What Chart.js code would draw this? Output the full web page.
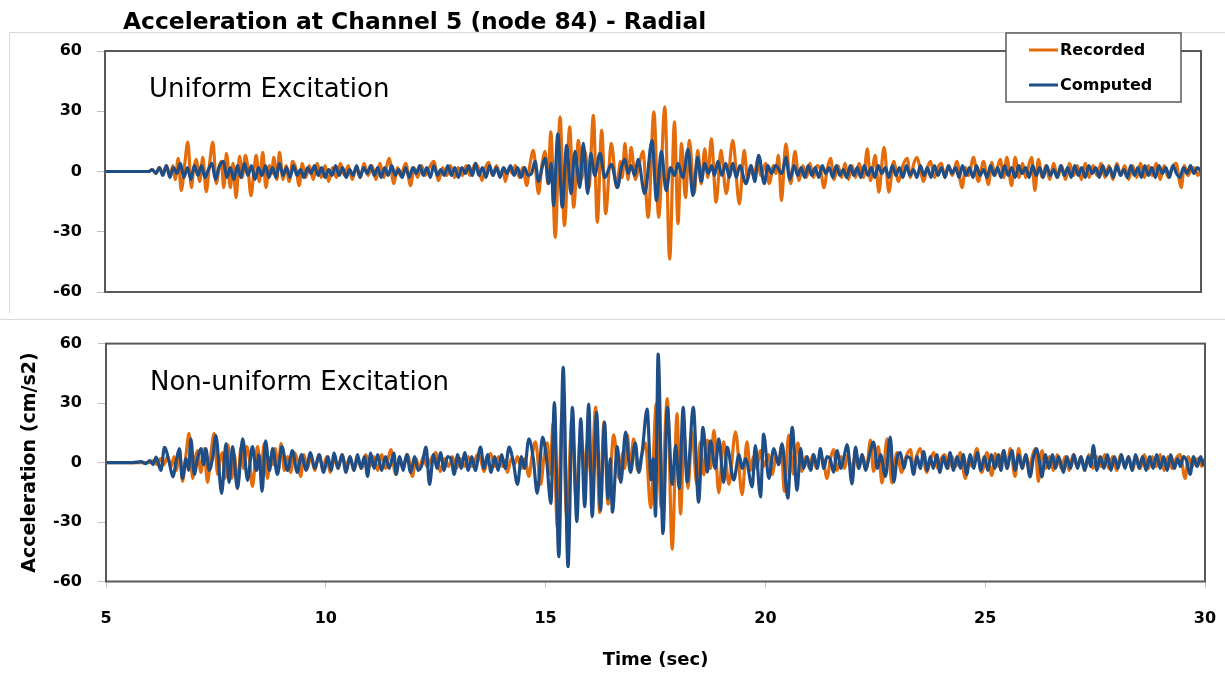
<!DOCTYPE html>
<html>
<head>
<meta charset="utf-8">
<title>Acceleration at Channel 5 (node 84) - Radial</title>
<script src="https://cdn.jsdelivr.net/npm/chart.js@4.4.1/dist/chart.umd.min.js"></script>
<style>
  html, body { margin: 0; padding: 0; background: #fff; }
  #wrap { position: relative; width: 1225px; height: 687px; overflow: hidden; background: #fff; }
  .rule { position: absolute; background: #d9d9d9; }
  #topBox { position: absolute; left: 0; top: 0; width: 1225px; height: 318px; }
  #botBox { position: absolute; left: 0; top: 318px; width: 1225px; height: 369px; }
  canvas { display: block; }
</style>
</head>
<body>
<div id="wrap">
  <div class="rule" style="left:9px;top:32px;width:1216px;height:1px"></div>
  <div class="rule" style="left:9px;top:32px;width:1px;height:281px"></div>
  <div class="rule" style="left:0;top:319px;width:1225px;height:1px"></div>
  <div id="topBox"><canvas id="topChart" width="1225" height="318"></canvas></div>
  <div id="botBox"><canvas id="botChart" width="1225" height="369"></canvas></div>
</div>
<script>
// ---- chart text ----
const chartTitle = 'Acceleration at Channel 5 (node 84) - Radial';
const panelCaptions = ['Uniform Excitation', 'Non-uniform Excitation'];
const seriesNames = ['Recorded', 'Computed'];
const xAxisTitle = 'Time (sec)';
const yAxisTitle = 'Acceleration (cm/s2)';

// ---- tick values ----
const timeTicks = [5, 10, 15, 20, 25, 30];
const accelTicks = [-60, -30, 0, 30, 60];

// ---- series: [time (s), acceleration (cm/s2)] ----
const recorded = [
  [5,0],[5.6,0],[6.0,0],[6.08,1],[6.16,-1],[6.24,2],[6.32,-1],[6.4,3],[6.48,-2],[6.55,3],[6.6,-4],
  [6.67,6.5],[6.74,-9.5],[6.82,4],[6.89,14.7],[6.97,-8],[7.02,1],[7.08,6],[7.16,-5],[7.23,7],[7.31,-10],
  [7.38,3],[7.46,14.7],[7.54,-6],[7.6,2],[7.65,5],[7.71,-8],[7.77,9],[7.86,-8],[7.92,4],[7.99,-13],
  [8.07,7.5],[8.13,-3],[8.2,8],[8.26,2],[8.33,-12],[8.4,1],[8.45,8],[8.52,-5],[8.6,9.5],[8.67,-8],
  [8.75,3],[8.8,-1],[8.85,7],[8.92,-4],[8.98,9.5],[9.06,-4],[9.13,3],[9.2,-5],[9.28,5],[9.36,1],
  [9.43,-7],[9.5,4],[9.58,-3],[9.66,3],[9.75,-4],[9.84,4],[9.93,-3],[10.02,3],[10.1,-5],[10.19,2],
  [10.28,-3],[10.37,4],[10.46,-2],[10.55,3],[10.64,-4],[10.73,2],[10.82,-3],[10.91,4],[11.0,-2],
  [11.09,3],[11.18,-4],[11.27,4],[11.36,-3],[11.42,2],[11.48,6.5],[11.59,-6],[11.67,2],[11.74,-2],
  [11.86,4],[11.97,-7],[12.05,2],[12.13,-3],[12.22,3],[12.3,-2],[12.4,2],[12.5,5],[12.61,-4.5],
  [12.7,2],[12.79,-2],[12.88,3],[12.97,-3],[13.06,2],[13.15,-2],[13.24,3],[13.33,-2],[13.45,4],
  [13.53,1],[13.6,-4.5],[13.68,2],[13.75,4.5],[13.84,-2],[13.93,3],[14.02,-2],[14.08,1],[14.13,-5],
  [14.22,2],[14.29,-1],[14.36,3],[14.45,-3],[14.53,2],[14.62,-7],[14.69,3],[14.77,10.5],[14.89,-11],
  [14.96,2],[15.04,10],[15.1,-6],[15.17,19.7],[15.27,-32.8],[15.38,27.2],[15.48,-27],[15.6,22.2],
  [15.69,-17.8],[15.8,15.5],[15.87,-3.8],[15.95,10],[16.04,-8],[16.14,28],[16.23,-25.3],[16.33,20.5],
  [16.42,-21],[16.55,14],[16.67,-8],[16.76,5],[16.8,-3],[16.86,14],[16.93,-4],[17.0,12],[17.1,-4],
  [17.18,3],[17.27,10],[17.39,-22.8],[17.52,29.7],[17.63,-22.8],[17.77,32.2],[17.88,-43.7],[17.99,24.7],
  [18.07,-26],[18.15,14],[18.24,-13],[18.33,15.5],[18.44,-11],[18.52,10.5],[18.6,-6.2],[18.68,11.3],
  [18.75,-3],[18.83,16.3],[18.94,-15.3],[19.05,10.5],[19.17,-11],[19.32,15.5],[19.47,-16.2],[19.58,10.5],
  [19.66,-4],[19.73,3],[19.8,-3],[19.89,6],[19.96,-2],[20.07,4],[20.15,-6],[20.25,3],[20.3,-1],
  [20.36,8],[20.43,-14.5],[20.53,13.8],[20.64,-6],[20.74,10],[20.83,-4.5],[20.92,3],[21.0,-3],
  [21.08,4],[21.16,-3],[21.24,3],[21.32,1],[21.4,-8],[21.48,2],[21.55,6.5],[21.63,-4],[21.72,3],
  [21.8,-3],[21.88,4],[21.96,-4],[22.04,3],[22.12,-3],[22.2,4],[22.3,-3],[22.39,11.3],[22.46,-4.5],
  [22.57,8],[22.65,-10.3],[22.77,12],[22.88,-10.3],[22.99,5],[23.1,-5],[23.2,3],[23.3,6.5],[23.37,-3],
  [23.45,4],[23.52,7],[23.6,1],[23.67,-5],[23.76,2],[23.83,5],[23.92,-3],[24.0,2],[24.08,4],[24.16,-3],
  [24.24,3],[24.33,-2],[24.43,5],[24.55,-8],[24.63,2],[24.7,-2],[24.81,7],[24.92,-5],[25.04,5],
  [25.15,-6.5],[25.23,4.5],[25.3,-2],[25.42,6],[25.5,-3],[25.57,7],[25.68,-7],[25.76,7],[25.85,-3],
  [25.93,4],[26.0,-3],[26.07,3],[26.14,7],[26.21,-9.5],[26.29,6],[26.38,-3],[26.46,3],[26.55,-4],
  [26.64,4],[26.73,-3],[26.82,3],[26.91,-4],[27.0,4],[27.09,-2],[27.18,3],[27.27,-4],[27.36,4],
  [27.45,-3],[27.54,3],[27.63,-2],[27.72,4],[27.81,-3],[27.9,3],[27.99,-4],[28.08,4],[28.17,-2],
  [28.26,3],[28.35,-4],[28.44,3],[28.53,-3],[28.62,4],[28.71,-3],[28.8,3],[28.89,-2],[28.98,4],
  [29.07,-4],[29.16,3],[29.25,-3],[29.34,2],[29.43,4],[29.55,-8],[29.62,3],[29.7,-2],[29.78,1],
  [29.85,2],[29.93,-2],[30,1]
];

const computedUniform = [
  [5,0],[6.0,0],[6.08,1],[6.16,-1],[6.24,2],[6.32,-2],[6.4,3],[6.48,-3],[6.56,2],[6.64,-1],[6.72,4],
  [6.8,-3],[6.88,2],[6.96,-4],[7.04,3],[7.12,-2],[7.2,3],[7.28,-3],[7.36,1],[7.44,4],[7.52,-4],
  [7.6,2],[7.7,5],[7.78,-3],[7.86,2],[7.94,-4],[8.02,3],[8.1,-3],[8.18,4],[8.26,-2],[8.34,3],
  [8.42,-4],[8.5,2],[8.58,-2],[8.66,3],[8.74,-3],[8.82,2],[8.9,-3],[8.98,4],[9.06,-2],[9.14,2],
  [9.22,-3],[9.3,3],[9.38,-2],[9.46,1],[9.54,-3],[9.62,2],[9.7,-1],[9.78,3],[9.86,-2],[9.94,2],
  [10.02,-3],[10.1,1],[10.18,-2],[10.26,3],[10.34,-2],[10.42,2],[10.5,-3],[10.58,1],[10.66,-2],
  [10.74,3],[10.82,-3],[10.9,2],[10.98,-1],[11.06,3],[11.14,-2],[11.22,2],[11.3,-3],[11.38,2],
  [11.46,-2],[11.54,3],[11.62,-2],[11.7,1],[11.78,-3],[11.86,2],[11.94,-3],[12.02,2],[12.1,-1],
  [12.18,3],[12.26,-2],[12.34,2],[12.42,-3],[12.5,3],[12.58,-2],[12.66,1],[12.74,-2],[12.82,3],
  [12.9,-2],[12.98,2],[13.06,-3],[13.14,2],[13.22,-1],[13.3,3],[13.38,-2],[13.45,4],[13.53,-2],
  [13.61,2],[13.69,-3],[13.77,3],[13.85,-2],[13.93,2],[14.01,-3],[14.09,2],[14.17,-1],[14.25,3],
  [14.33,-2],[14.41,2],[14.49,-3],[14.57,2],[14.65,-2],[14.73,-1],[14.81,5],[14.89,-5],[14.97,2],
  [15.04,6.5],[15.12,-6],[15.18,4],[15.23,-17],[15.33,18.8],[15.43,-17.8],[15.53,13],[15.63,-11],
  [15.72,10],[15.83,-8],[15.91,14],[16.01,-11],[16.08,9],[16.17,-2],[16.29,9],[16.4,-3],[16.55,3.5],
  [16.69,-8],[16.78,2],[16.86,6],[16.93,-1],[17.0,3],[17.08,-2],[17.16,6],[17.31,-11],[17.48,15.5],
  [17.58,-14.5],[17.69,10],[17.8,-9.5],[17.9,2],[17.99,-2],[18.07,4],[18.18,-3],[18.3,11],[18.41,-12],
  [18.52,7],[18.6,-5],[18.68,4],[18.76,-1],[18.84,3],[18.9,-2],[18.98,5],[19.07,-2],[19.16,4],
  [19.24,-3],[19.32,4],[19.4,-3],[19.48,3],[19.62,-6],[19.74,3],[19.82,-5],[19.91,8],[20.04,-6],
  [20.12,3],[20.2,-1],[20.3,3],[20.44,-1],[20.53,7],[20.62,-4],[20.72,3],[20.8,-2],[20.88,2],
  [20.96,-3],[21.04,3],[21.12,-2],[21.2,2],[21.28,-3],[21.36,3],[21.44,-1],[21.52,2],[21.6,-3],
  [21.68,3],[21.76,-2],[21.84,1],[21.92,-3],[22.0,3],[22.08,-2],[22.16,2],[22.24,-3],[22.32,3],
  [22.4,-2],[22.48,2],[22.56,-3],[22.64,3],[22.72,-1],[22.8,2],[22.88,-3],[22.96,3],[23.04,-2],
  [23.12,2],[23.2,-3],[23.28,3],[23.36,-2],[23.44,1],[23.52,-3],[23.6,3],[23.68,-2],[23.76,2],
  [23.84,-3],[23.92,3],[24.0,-2],[24.08,2],[24.16,-3],[24.24,3],[24.32,-1],[24.4,2],[24.48,-3],
  [24.56,3],[24.64,-2],[24.72,2],[24.8,-3],[24.88,3],[24.96,-2],[25.04,1],[25.12,-3],[25.2,3],
  [25.28,-2],[25.36,2],[25.44,-3],[25.52,3],[25.6,-2],[25.68,2],[25.76,-3],[25.84,3],[25.92,-1],
  [26.0,2],[26.08,-3],[26.16,3],[26.24,-2],[26.32,2],[26.4,-3],[26.48,3],[26.56,-2],[26.64,1],
  [26.72,-3],[26.8,3],[26.88,-2],[26.96,2],[27.04,-3],[27.12,3],[27.2,-2],[27.28,2],[27.36,-3],
  [27.44,3],[27.52,-1],[27.6,2],[27.68,-3],[27.76,3],[27.84,-2],[27.92,2],[28.0,-3],[28.08,3],
  [28.16,-2],[28.24,1],[28.32,-3],[28.4,3],[28.48,-2],[28.56,2],[28.64,-3],[28.72,3],[28.8,-2],
  [28.88,2],[28.96,-3],[29.04,3],[29.12,-1],[29.2,2],[29.28,-3],[29.36,3],[29.44,-1],[29.52,-3],
  [29.6,2],[29.68,-1],[29.76,3],[29.84,-1],[29.92,2],[30,0]
];

const computedNonUniform = [
  [5,0],[5.6,0],[5.8,0.5],[5.9,-0.5],[6.0,1],[6.07,-1],[6.14,2.7],[6.25,-4],[6.33,7.7],[6.44,0],
  [6.52,-7.2],[6.6,1],[6.67,7],[6.74,-8],[6.82,2],[6.88,-4],[6.93,12],[7.01,-6],[7.08,2],[7.16,7],
  [7.22,-1],[7.27,7],[7.35,-4],[7.43,3],[7.5,13.7],[7.63,-15.6],[7.73,9.5],[7.8,-10],[7.88,8],
  [7.99,-13],[8.11,12],[8.22,-9],[8.33,8],[8.42,-4],[8.48,4],[8.55,-14.5],[8.63,11],[8.72,-4],
  [8.79,7],[8.9,-6],[9.0,8],[9.13,-4],[9.24,6],[9.35,-5],[9.45,4],[9.55,-4],[9.65,5],[9.75,-3],
  [9.85,4],[9.95,-5],[10.05,3],[10.12,-4],[10.19,4.8],[10.28,-3],[10.37,4],[10.46,-5],[10.55,3],
  [10.64,-4],[10.72,4],[10.8,-3],[10.88,3],[10.95,-7],[11.02,4.8],[11.1,-3],[11.18,4],[11.27,-4],
  [11.36,3],[11.44,-3],[11.55,4.8],[11.6,-6],[11.68,3],[11.76,-4],[11.84,4],[11.93,-5],[12.02,3],
  [12.1,-4],[12.19,-1],[12.28,7.8],[12.36,-11],[12.45,4],[12.53,-3],[12.61,5],[12.69,-4],[12.77,3],
  [12.85,2],[12.92,-6],[13.0,4],[13.08,-3],[13.16,5],[13.24,-4],[13.32,3],[13.4,-4],[13.52,7.8],
  [13.6,-3],[13.68,4],[13.76,-5],[13.84,3],[13.92,-4],[14.0,4],[14.08,-3],[14.17,7.8],[14.26,1],
  [14.36,-11],[14.45,3],[14.52,-3],[14.62,12],[14.72,2],[14.81,-15.6],[14.93,12.8],[15.02,2],
  [15.12,-20.6],[15.2,30.3],[15.3,-47.5],[15.4,48],[15.51,-52.5],[15.61,27.8],[15.71,-29.8],[15.8,22],
  [15.89,-22.3],[15.98,29.5],[16.06,-27.3],[16.16,25.3],[16.25,-24],[16.34,20.3],[16.42,-18.2],
  [16.47,2],[16.52,-25],[16.63,8],[16.71,-10],[16.82,15.3],[16.93,-5],[17.04,10],[17.12,-5],[17.2,6],
  [17.31,27],[17.4,-8.8],[17.45,2],[17.5,-27],[17.56,54.7],[17.67,-35.8],[17.77,27.8],[17.88,-11],
  [17.96,8.7],[18.04,-13],[18.13,27.8],[18.22,-9.8],[18.36,27.8],[18.48,-20],[18.58,17.8],[18.68,-4.8],
  [18.75,11],[18.86,-3],[18.94,12],[19.05,-10],[19.13,7.8],[19.28,-8.8],[19.4,4],[19.47,-3],[19.55,2],
  [19.7,-12.3],[19.77,8.6],[19.89,-17.3],[19.96,14.4],[20.08,-8],[20.19,7],[20.3,-1],[20.38,9.4],
  [20.51,-18],[20.61,17.8],[20.72,-14],[20.8,7],[20.87,-3],[20.95,3],[21.03,-4],[21.1,4],[21.18,-3],
  [21.25,7],[21.33,-3],[21.4,3],[21.47,2],[21.55,-4.8],[21.63,6],[21.72,-3],[21.79,3],[21.86,9],
  [21.97,-10.8],[22.05,7.8],[22.13,-3],[22.2,4],[22.28,-4],[22.36,3],[22.46,10.3],[22.55,-3],[22.62,4],
  [22.73,-7],[22.84,12.8],[22.92,-9.8],[23.0,3],[23.07,5],[23.15,-3],[23.22,3],[23.3,2],[23.37,-6],
  [23.45,3],[23.52,-3],[23.6,5.5],[23.68,-4],[23.75,3],[23.82,-3],[23.9,4],[23.97,-5],[24.05,3],
  [24.13,-3],[24.2,5],[24.28,-4],[24.36,3],[24.44,-3],[24.5,4],[24.58,-6],[24.66,4],[24.74,-3],
  [24.82,5],[24.9,-4],[24.98,3],[25.06,-4],[25.14,4],[25.22,-3],[25.3,4],[25.36,-4],[25.42,6],
  [25.5,-3],[25.55,2],[25.61,6],[25.68,-4],[25.76,4],[25.84,-3],[25.92,4],[26.02,-7.2],[26.1,3],
  [26.17,7],[26.23,1],[26.29,-7.2],[26.37,4],[26.45,-3],[26.53,4],[26.6,-3],[26.67,3],[26.78,-5],
  [26.86,3],[26.94,-3],[27.02,4],[27.1,-3],[27.18,3],[27.26,-4],[27.34,3],[27.4,-2],[27.46,8.6],
  [27.54,-4],[27.62,3],[27.7,-3],[27.78,4],[27.86,-4],[27.94,3],[28.02,-3],[28.1,4],[28.18,-3],
  [28.26,3],[28.34,-4],[28.42,4],[28.5,-3],[28.58,3],[28.66,-4],[28.74,3],[28.82,-3],[28.9,4],
  [28.98,-3],[29.06,3],[29.14,-4],[29.22,4],[29.3,-3],[29.38,2],[29.44,-2],[29.51,3],[29.58,1],
  [29.66,-6],[29.74,3],[29.82,-2],[29.9,3],[29.96,-1],[30,2]
];

// ---- styling ----
const ORANGE = '#E46C0A';
const BLUE = '#1F4E86';
const FONT = '"DejaVu Sans", "Open Sans", sans-serif';
const FRAME = '#595959';
const TICKMARK = '#bfbfbf';

const toPoints = rows => rows.map(([x, y]) => ({ x, y }));

function makeDatasets(computedRows) {
  return [
    { label: seriesNames[0], data: toPoints(recorded), borderColor: ORANGE, backgroundColor: ORANGE,
      borderWidth: 3.2, pointRadius: 0, cubicInterpolationMode: 'monotone', order: 2 },
    { label: seriesNames[1], data: toPoints(computedRows), borderColor: BLUE, backgroundColor: BLUE,
      borderWidth: 3.2, pointRadius: 0, cubicInterpolationMode: 'monotone', order: 1 }
  ];
}

// Plot box outline plus the panel caption inside it
const panelDecor = {
  id: 'panelDecor',
  afterDatasetsDraw(chart, args, opts) {
    const { ctx, chartArea: a } = chart;
    ctx.save();
    ctx.strokeStyle = FRAME;
    ctx.lineWidth = 2;
    ctx.strokeRect(a.left, a.top, a.right - a.left, a.bottom - a.top);
    ctx.fillStyle = '#000';
    ctx.font = '26px ' + FONT;
    ctx.textAlign = 'left';
    ctx.textBaseline = 'alphabetic';
    ctx.fillText(opts.caption, a.left + 44, a.top + 46);
    ctx.restore();
  }
};

// Chart title and boxed legend drawn on the upper panel
const headerDecor = {
  id: 'headerDecor',
  afterDraw(chart) {
    const { ctx } = chart;
    ctx.save();
    ctx.fillStyle = '#000';
    ctx.font = 'bold 23.4px ' + FONT;
    ctx.textAlign = 'left';
    ctx.textBaseline = 'alphabetic';
    ctx.fillText(chartTitle, 123, 29);

    const bx = 1006, by = 33, bw = 175, bh = 69;
    ctx.fillStyle = '#fff';
    ctx.fillRect(bx, by, bw, bh);
    ctx.strokeStyle = FRAME;
    ctx.lineWidth = 1.5;
    ctx.strokeRect(bx, by, bw, bh);
    ctx.font = 'bold 16px ' + FONT;
    ctx.textBaseline = 'middle';
    chart.data.datasets.forEach((ds, i) => {
      const y = 50 + i * 35;
      ctx.strokeStyle = ds.borderColor;
      ctx.lineWidth = 3;
      ctx.beginPath();
      ctx.moveTo(1029, y);
      ctx.lineTo(1058, y);
      ctx.stroke();
      ctx.fillStyle = '#000';
      ctx.fillText(ds.label, 1060, y + 1);
    });
    ctx.restore();
  }
};

const tickFont = { family: FONT, size: 16, weight: 'bold' };

function yScale(width, withTitle) {
  return {
    type: 'linear', min: -60, max: 60,
    afterBuildTicks: s => { s.ticks = accelTicks.map(v => ({ value: v })); },
    afterFit: s => { s.width = width; },
    ticks: { font: tickFont, color: '#000', padding: width - 8 - 82 },
    grid: { drawOnChartArea: false, drawTicks: true, tickLength: 8, color: TICKMARK },
    border: { display: false },
    title: withTitle
      ? { display: true, text: yAxisTitle, color: '#000', font: { family: FONT, size: 19, weight: 'bold' },
          padding: { top: 18.6, bottom: 0 } }
      : { display: false }
  };
}

Chart.defaults.animation = false;
Chart.defaults.responsive = false;
Chart.defaults.devicePixelRatio = 1;

new Chart(document.getElementById('topChart'), {
  type: 'line',
  data: { datasets: makeDatasets(computedUniform) },
  options: {
    layout: { padding: { left: 0, right: 24, top: 51, bottom: 26 } },
    plugins: { legend: { display: false }, tooltip: { enabled: false },
               panelDecor: { caption: panelCaptions[0] } },
    scales: {
      x: { type: 'linear', min: 5, max: 30, display: false },
      y: yScale(105, false)
    }
  },
  plugins: [panelDecor, headerDecor]
});

new Chart(document.getElementById('botChart'), {
  type: 'line',
  data: { datasets: makeDatasets(computedNonUniform) },
  options: {
    layout: { padding: { left: 0, right: 20, top: 23, bottom: 0 } },
    plugins: { legend: { display: false }, tooltip: { enabled: false },
               panelDecor: { caption: panelCaptions[1] } },
    scales: {
      x: {
        type: 'linear', min: 5, max: 30,
        afterBuildTicks: s => { s.ticks = timeTicks.map(v => ({ value: v })); },
        afterFit: s => { s.height = 105.5; s.paddingLeft = 0; s.paddingRight = 0; },
        ticks: { font: tickFont, color: '#000', padding: 22, maxRotation: 0 },
        grid: { drawOnChartArea: false, drawTicks: true, tickLength: 6, color: TICKMARK },
        border: { display: false },
        title: { display: true, text: xAxisTitle, color: '#000',
                 font: { family: FONT, size: 18, weight: 'bold' }, padding: { top: 0, bottom: 16.2 } }
      },
      y: yScale(106, true)
    }
  },
  plugins: [panelDecor]
});
</script>
</body>
</html>
